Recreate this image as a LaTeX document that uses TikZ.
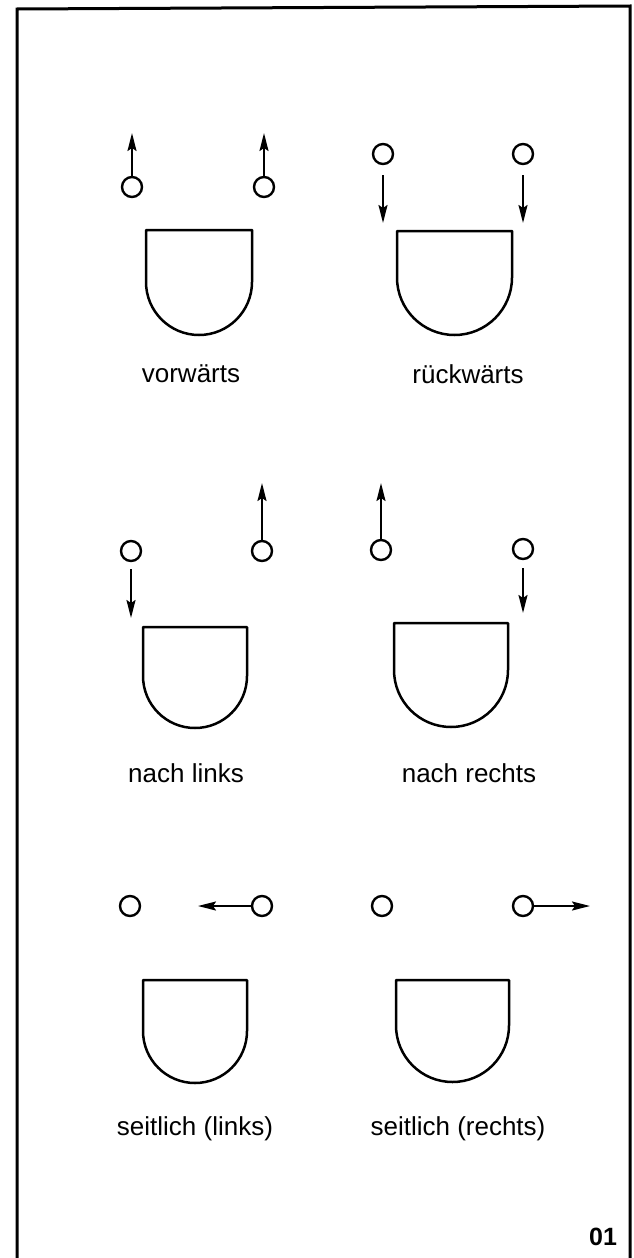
\documentclass[tikz,border=0pt]{standalone}
\usepackage{fontspec}
\setmainfont{Liberation Sans}
\usetikzlibrary{arrows.meta}
\tikzset{
  pin/.style={circle,draw,line width=2.4pt,minimum size=20pt,inner sep=0pt},
  arr/.style={line width=2pt,-{Stealth[length=18pt,width=9pt,inset=3pt]}},
  shieldline/.style={line width=2.5pt,line join=round},
  lbl/.style={anchor=base,inner sep=0pt,font=\fontsize{26}{30}\selectfont},
  frameline/.style={line width=3pt}
}
% #1 left x, #2 right x, #3 top y, #4 bottom y
\newcommand{\myshield}[4]{%
  \pgfmathsetmacro{\shr}{(#2-#1)/2}%
  \pgfmathsetmacro{\shy}{#4-\shr}%
  \draw[shieldline] (#1,#3) -- (#2,#3) -- (#2,\shy) arc[start angle=0,end angle=180,radius=\shr] -- cycle;%
}
\begin{document}
\begin{tikzpicture}[x=1pt,y=-1pt]
\useasboundingbox (0,0) rectangle (633,1258);
% frame
\draw[frameline] (17,1258) -- (17,9) -- (630,6) -- (630,1258);

% panel 1: vorwaerts
\node[pin] (a1) at (132,187) {};
\node[pin] (a2) at (264,187) {};
\coordinate (ta1) at (132,133);
\coordinate (ta2) at (264,133);
\draw[arr] (a1.north) -- (ta1);
\draw[arr] (a2.north) -- (ta2);
\myshield{146}{252}{230}{335}
\node[lbl] (la) at (191,382) {vorwärts};

% panel 2: rueckwaerts
\node[pin] (b1) at (383,154) {};
\node[pin] (b2) at (523,154) {};
\coordinate (tb1) at (383,223);
\coordinate (tb2) at (523,223);
\draw[arr,shorten <=10pt] (b1.south) -- (tb1);
\draw[arr,shorten <=10pt] (b2.south) -- (tb2);
\myshield{397}{512}{231}{335}
\node[lbl] (lb) at (468,383) {rückwärts};

% panel 3: nach links
\node[pin] (c1) at (131,551) {};
\node[pin] (c2) at (262,551) {};
\coordinate (tc1) at (131,618);
\coordinate (tc2) at (262,483);
\draw[arr,shorten <=7pt] (c1.south) -- (tc1);
\draw[arr] (c2.north) -- (tc2);
\myshield{143}{247}{627}{728}
\node[lbl] (lc) at (186,782) {nach links};

% panel 4: nach rechts
\node[pin] (d1) at (381,550) {};
\node[pin] (d2) at (523,549) {};
\coordinate (td1) at (381,483);
\coordinate (td2) at (523,613);
\draw[arr] (d1.north) -- (td1);
\draw[arr,shorten <=8pt] (d2.south) -- (td2);
\myshield{394}{508}{623}{727}
\node[lbl] (ld) at (469,782) {nach rechts};

% panel 5: seitlich (links)
\node[pin] (e1) at (130,906) {};
\node[pin] (e2) at (262,906) {};
\coordinate (te2) at (198,906);
\draw[arr] (e2.west) -- (te2);
\myshield{143}{247}{980}{1083}
\node[lbl] (le) at (195,1135) {seitlich (links)};

% panel 6: seitlich (rechts)
\node[pin] (f1) at (382,906) {};
\node[pin] (f2) at (523,906) {};
\coordinate (tf2) at (590,906);
\draw[arr] (f2.east) -- (tf2);
\myshield{396}{509}{980}{1082}
\node[lbl] (lf) at (458,1135) {seitlich (rechts)};

% figure number
\node[anchor=base,inner sep=0pt,font=\fontsize{25}{28}\selectfont\bfseries] (num) at (603,1245) {01};
\end{tikzpicture}
\end{document}
